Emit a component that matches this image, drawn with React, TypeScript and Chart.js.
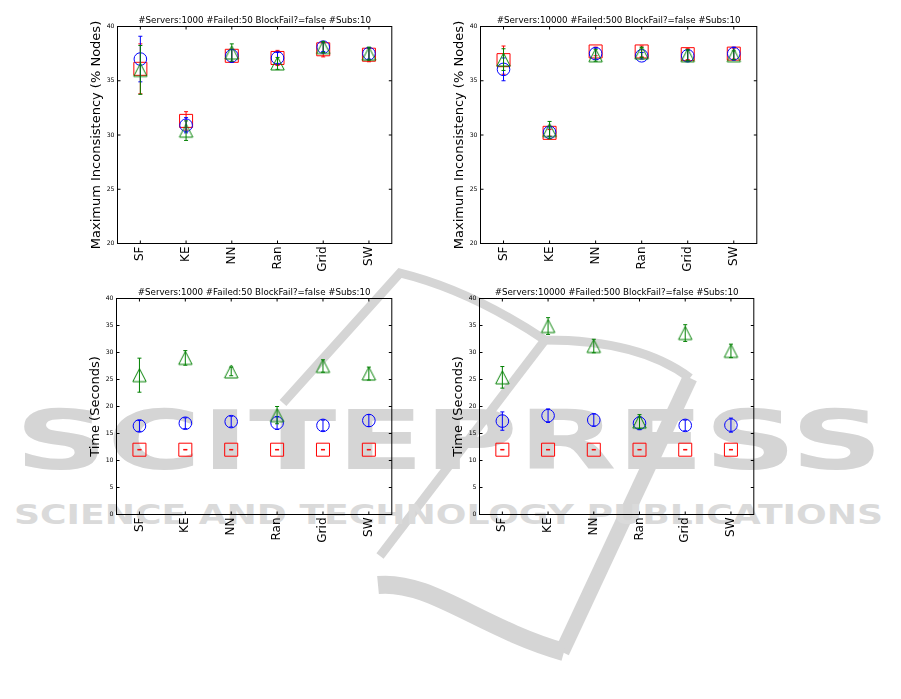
import { useEffect, useRef } from 'react';
import { Chart, registerables } from 'chart.js';

Chart.register(...registerables);

const FONT = "'DejaVu Sans', sans-serif";

const categories = ['SF', 'KE', 'NN', 'Ran', 'Grid', 'SW'];

const title1k = '#Servers:1000 #Failed:50 BlockFail?=false #Subs:10';
const title10k = '#Servers:10000 #Failed:500 BlockFail?=false #Subs:10';
const yTitleIncon = 'Maximum Inconsistency (% Nodes)';
const yTitleTime = 'Time (Seconds)';

// Top-left: inconsistency, 1000 servers
const inc1kSquare = [36.1, 31.3, 37.3, 37.1, 37.9, 37.4];
const inc1kSquareErr = [2.3, 0.85, 0.6, 0.7, 0.7, 0.65];
const inc1kCircle = [37.0, 30.9, 37.3, 37.1, 38.1, 37.5];
const inc1kCircleErr = [2.1, 0.7, 0.6, 0.5, 0.4, 0.5];
const inc1kTriangle = [36.0, 30.4, 37.6, 36.6, 38.1, 37.5];
const inc1kTriangleErr = [2.25, 0.9, 0.8, 0.55, 0.5, 0.6];

// Top-right: inconsistency, 10000 servers
const inc10kSquare = [36.9, 30.2, 37.7, 37.7, 37.45, 37.5];
const inc10kSquareErr = [1.3, 0.3, 0.4, 0.5, 0.5, 0.5];
const inc10kCircle = [36.05, 30.25, 37.5, 37.3, 37.3, 37.5];
const inc10kCircleErr = [1.05, 0.4, 0.5, 0.3, 0.5, 0.6];
const inc10kTriangle = [36.95, 30.45, 37.35, 37.6, 37.35, 37.35];
const inc10kTriangleErr = [1.0, 0.8, 0.55, 0.45, 0.5, 0.4];

// Bottom-left: time, 1000 servers
const time1kSquare = [12.0, 12.0, 12.0, 12.0, 12.0, 12.0];
const time1kSquareErr = [0.05, 0.05, 0.05, 0.05, 0.05, 0.05];
const time1kCircle = [16.4, 16.9, 17.2, 16.95, 16.5, 17.4];
const time1kCircleErr = [1.0, 1.0, 1.0, 1.2, 1.0, 1.1];
const time1kTriangle = [25.8, 29.0, 26.5, 18.4, 27.5, 26.1];
const time1kTriangleErr = [3.15, 1.35, 0.8, 1.6, 1.15, 1.2];

// Bottom-right: time, 10000 servers
const time10kSquare = [12.0, 12.0, 12.0, 12.0, 12.0, 12.0];
const time10kSquareErr = [0.05, 0.05, 0.05, 0.05, 0.05, 0.05];
const time10kCircle = [17.3, 18.3, 17.5, 16.9, 16.5, 16.55];
const time10kCircleErr = [1.7, 1.25, 1.15, 1.2, 1.0, 1.3];
const time10kTriangle = [25.4, 34.9, 31.2, 17.2, 33.6, 30.3];
const time10kTriangleErr = [2.0, 1.55, 1.25, 1.3, 1.55, 1.25];

const RED = '#ff0000';
const BLUE = '#0000ff';
const GREEN = '#008000';

type Marker = 'rect' | 'circle' | 'triangle';
type Series = { values: number[]; errors: number[]; color: string; marker: Marker; order: number };

function triangleImage(color: string) {
  const c = document.createElement('canvas');
  c.width = 17;
  c.height = 17;
  const g = c.getContext('2d')!;
  g.strokeStyle = color;
  g.lineWidth = 1;
  g.beginPath();
  g.moveTo(8.5, 2);
  g.lineTo(15.2, 15);
  g.lineTo(1.8, 15);
  g.closePath();
  g.stroke();
  return c;
}

const errorBarPlugin = {
  id: 'errorBars',
  beforeDatasetDraw(chart: any, args: any) {
    const ds = chart.data.datasets[args.index];
    const errs: number[] | undefined = ds.errors;
    if (!errs) return;
    const yScale = chart.scales.y;
    const ctx = chart.ctx;
    ctx.save();
    ctx.strokeStyle = ds.errColor;
    ctx.lineWidth = 1;
    args.meta.data.forEach((pt: any, i: number) => {
      const v = ds.data[i];
      const e = errs[i];
      const x = pt.x;
      const y1 = yScale.getPixelForValue(v + e);
      const y2 = yScale.getPixelForValue(v - e);
      ctx.beginPath();
      ctx.moveTo(x, y1);
      ctx.lineTo(x, y2);
      ctx.moveTo(x - 2, y1);
      ctx.lineTo(x + 2, y1);
      ctx.moveTo(x - 2, y2);
      ctx.lineTo(x + 2, y2);
      ctx.stroke();
    });
    ctx.restore();
  },
};

const framePlugin = {
  id: 'frameTicks',
  afterDatasetsDraw(chart: any) {
    const { ctx, chartArea: a, scales } = chart;
    ctx.save();
    ctx.strokeStyle = '#000';
    ctx.lineWidth = 1;
    ctx.strokeRect(a.left, a.top, a.right - a.left, a.bottom - a.top);
    ctx.beginPath();
    scales.y.ticks.forEach((_t: any, i: number) => {
      const py = scales.y.getPixelForTick(i);
      ctx.moveTo(a.left, py);
      ctx.lineTo(a.left + 3, py);
      ctx.moveTo(a.right, py);
      ctx.lineTo(a.right - 3, py);
    });
    scales.x.ticks.forEach((_t: any, i: number) => {
      const px = scales.x.getPixelForTick(i);
      ctx.moveTo(px, a.bottom);
      ctx.lineTo(px, a.bottom - 3);
      ctx.moveTo(px, a.top);
      ctx.lineTo(px, a.top + 3);
    });
    ctx.stroke();
    ctx.restore();
  },
};

type PanelProps = {
  box: [number, number, number, number];
  title: string;
  yTitle: string;
  yMin: number;
  yMax: number;
  series: Series[];
};

function Panel({ box, title, yTitle, yMin, yMax, series }: PanelProps) {
  const ref = useRef<HTMLCanvasElement>(null);
  const [L, T, R, B] = box;
  const YW = 46;
  const TH = 16;
  const XH = 42;
  const RP = 6;
  const cl = Math.floor(L - YW);
  const ct = Math.floor(T - TH);
  const cw = Math.ceil(R + RP - cl);
  const ch = Math.ceil(B + XH - ct);

  useEffect(() => {
    const yAxisW = L - cl;
    const xAxisH = ch - (B - ct);
    const titleFontSize = 8.7;
    const titleLH = titleFontSize * 1.2;
    const padBottom = 0.8;
    const padTop = TH - titleLH - padBottom;
    const yTitleSize = 13;
    const chart = new Chart(ref.current!, {
      type: 'line',
      data: {
        labels: categories,
        datasets: series.map((s) => ({
          data: s.values,
          errors: s.errors,
          errColor: s.color,
          order: s.order,
          showLine: false,
          borderColor: s.color,
          backgroundColor: 'rgba(0,0,0,0)',
          pointStyle: s.marker === 'triangle' ? triangleImage(s.color) : s.marker,
          pointRadius: s.marker === 'rect' ? 9.2 : 6.3,
          pointHoverRadius: s.marker === 'rect' ? 9.2 : 6.3,
          pointBorderWidth: 1,
          pointBorderColor: s.color,
          pointBackgroundColor: 'rgba(0,0,0,0)',
        })) as any,
      },
      options: {
        responsive: false,
        animation: false,
        devicePixelRatio: 1,
        events: [],
        layout: {
          padding: { left: 0, top: T - TH - ct, right: cw - (R - cl), bottom: 0 },
        },
        plugins: {
          legend: { display: false },
          tooltip: { enabled: false },
          title: {
            display: true,
            text: title,
            fullSize: false,
            color: '#000',
            font: { family: FONT, size: titleFontSize, weight: 'normal', lineHeight: 1.2 },
            padding: { top: padTop, bottom: padBottom },
          },
        },
        scales: {
          x: {
            type: 'category',
            offset: true,
            grid: { display: false, drawTicks: false },
            border: { display: false },
            ticks: {
              autoSkip: false,
              minRotation: 90,
              maxRotation: 90,
              padding: 3,
              color: '#000',
              font: { family: FONT, size: 12 },
            },
            afterFit: (s: any) => {
              s.height = xAxisH;
            },
          },
          y: {
            type: 'linear',
            min: yMin,
            max: yMax,
            grid: { display: false, drawTicks: false },
            border: { display: false },
            ticks: {
              stepSize: 5,
              padding: 3,
              color: '#000',
              font: { family: FONT, size: 6.2 },
            },
            title: {
              display: true,
              text: yTitle,
              color: '#000',
              font: { family: FONT, size: yTitleSize, lineHeight: 1.2 },
              padding: { top: yAxisW - 21 - (yTitleSize * 1.2) / 2, bottom: 0 },
            },
            afterFit: (s: any) => {
              s.width = yAxisW;
            },
          },
        },
      } as any,
      plugins: [errorBarPlugin, framePlugin],
    });
    return () => chart.destroy();
  }, []);

  return (
    <canvas
      ref={ref}
      width={cw}
      height={ch}
      style={{ position: 'absolute', left: cl, top: ct, width: cw, height: ch }}
    />
  );
}

function Watermark() {
  const c = '#d5d5d5';
  return (
    <svg
      width={901}
      height={699}
      style={{ position: 'absolute', left: 0, top: 0 }}
      xmlns="http://www.w3.org/2000/svg"
    >
      <path d="M 283 403 L 400 273 Q 470 290 545 340 Q 640 340 690 378" stroke={c} strokeWidth={9} fill="none" />
      <path d="M 545 340 L 380 556" stroke={c} strokeWidth={9} fill="none" />
      <path d="M 690 378 L 562 652" stroke={c} strokeWidth={15} fill="none" />
      <path d="M 378 585 C 430 580 480 628 564 652" stroke={c} strokeWidth={18} fill="none" />
      <text
        x={15}
        y={469}
        textLength={868}
        lengthAdjust="spacingAndGlyphs"
        fill={c}
        style={{ fontFamily: FONT, fontWeight: 'bold', fontSize: 82 }}
      >
        SCITEPRESS
      </text>
      <text
        x={14}
        y={524}
        textLength={869}
        lengthAdjust="spacingAndGlyphs"
        fill="#dadada"
        style={{ fontFamily: FONT, fontWeight: 'bold', fontSize: 26 }}
      >
        SCIENCE AND TECHNOLOGY PUBLICATIONS
      </text>
    </svg>
  );
}

function mk(values: number[], errors: number[], color: string, marker: Marker, order: number): Series {
  return { values, errors, color, marker, order };
}

export default function App() {
  return (
    <div style={{ position: 'absolute', left: 0, top: 0, width: 901, height: 699, background: '#fff' }}>
      <Watermark />
      <Panel
        box={[117.5, 26.5, 395.5, 243.5]}
        title={title1k}
        yTitle={yTitleIncon}
        yMin={20}
        yMax={40}
        series={[
          mk(inc1kSquare, inc1kSquareErr, RED, 'rect', 3),
          mk(inc1kCircle, inc1kCircleErr, BLUE, 'circle', 2),
          mk(inc1kTriangle, inc1kTriangleErr, GREEN, 'triangle', 1),
        ]}
      />
      <Panel
        box={[480.5, 26.5, 760.5, 243.5]}
        title={title10k}
        yTitle={yTitleIncon}
        yMin={20}
        yMax={40}
        series={[
          mk(inc10kSquare, inc10kSquareErr, RED, 'rect', 3),
          mk(inc10kCircle, inc10kCircleErr, BLUE, 'circle', 2),
          mk(inc10kTriangle, inc10kTriangleErr, GREEN, 'triangle', 1),
        ]}
      />
      <Panel
        box={[116.5, 298.5, 395.5, 514.5]}
        title={title1k}
        yTitle={yTitleTime}
        yMin={0}
        yMax={40}
        series={[
          mk(time1kSquare, time1kSquareErr, RED, 'rect', 3),
          mk(time1kCircle, time1kCircleErr, BLUE, 'circle', 2),
          mk(time1kTriangle, time1kTriangleErr, GREEN, 'triangle', 1),
        ]}
      />
      <Panel
        box={[479.5, 298.5, 757.5, 514.5]}
        title={title10k}
        yTitle={yTitleTime}
        yMin={0}
        yMax={40}
        series={[
          mk(time10kSquare, time10kSquareErr, RED, 'rect', 3),
          mk(time10kCircle, time10kCircleErr, BLUE, 'circle', 2),
          mk(time10kTriangle, time10kTriangleErr, GREEN, 'triangle', 1),
        ]}
      />
    </div>
  );
}
